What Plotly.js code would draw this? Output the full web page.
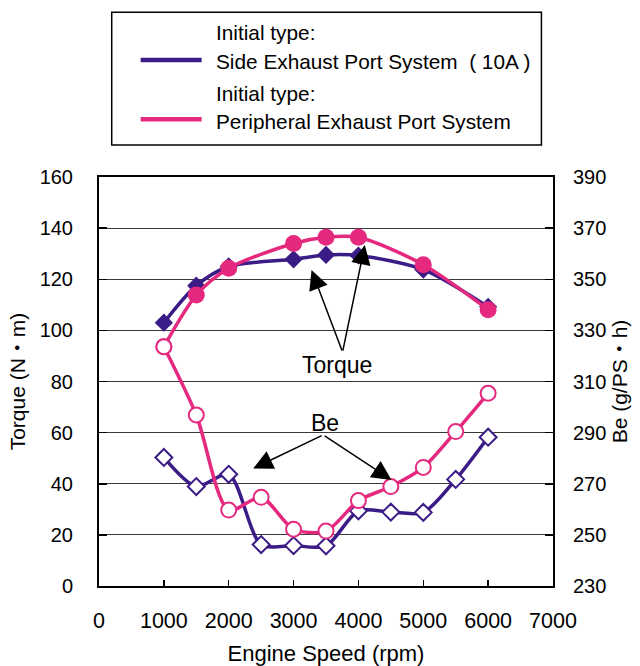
<!DOCTYPE html>
<html>
<head>
<meta charset="utf-8">
<script src="https://cdn.plot.ly/plotly-3.0.1.min.js"></script>
<style>html,body{margin:0;padding:0;background:#fff;}#chart{width:640px;height:666px;}</style>
</head>
<body>
<div id="chart"></div>
<script>
// ---- data ----
const speedTorque = [1000, 1500, 2000, 3000, 3500, 4000, 5000, 6000];
const torqueSide = [103, 117.5, 125, 127.8, 129.5, 129.3, 123.8, 109.2];
const torquePeripheral = [93.6, 113.8, 124.3, 134, 136.4, 136.4, 125.7, 108.1];

const speedBe = [1000, 1500, 2000, 2500, 3000, 3500, 4000, 4500, 5000, 5500, 6000];
const beSide = [280.3, 268.9, 273.7, 246.2, 245.8, 245.7, 259.4, 258.9, 258.8, 271.7, 288.2];
const bePeripheral = [323.6, 296.9, 259.7, 264.7, 252.2, 251.5, 263.4, 268.9, 276.4, 290.4, 305.4];

const legendHead = 'Initial type:';
const nameSide = 'Side Exhaust Port System\u00a0\u00a0( 10A )';
const namePeripheral = 'Peripheral Exhaust Port System';

const purple = '#3B1B86';
const pink = '#E4297F';
const FONT = 'Arial, "Liberation Sans", "Noto Sans CJK JP", sans-serif';

const traces = [
  {x: speedTorque, y: torqueSide, name: nameSide, type: 'scatter', mode: 'lines+markers', yaxis: 'y',
   line: {color: purple, width: 3.5, shape: 'spline', smoothing: 0.8},
   marker: {symbol: 'diamond', size: 14, color: purple}},
  {x: speedTorque, y: torquePeripheral, name: namePeripheral, type: 'scatter', mode: 'lines+markers', yaxis: 'y',
   line: {color: pink, width: 3.5, shape: 'spline', smoothing: 0.8},
   marker: {symbol: 'circle', size: 17, color: pink}},
  {x: speedBe, y: beSide, name: nameSide, type: 'scatter', mode: 'lines+markers', yaxis: 'y2',
   line: {color: purple, width: 3.5, shape: 'spline', smoothing: 0.8},
   marker: {symbol: 'diamond', size: 13, color: '#fff', line: {color: purple, width: 2}}},
  {x: speedBe, y: bePeripheral, name: namePeripheral, type: 'scatter', mode: 'lines+markers', yaxis: 'y2',
   line: {color: pink, width: 3.5, shape: 'spline', smoothing: 0.8},
   marker: {symbol: 'circle', size: 15, color: '#fff', line: {color: pink, width: 2}}}
];

const arrowStyle = {showarrow: true, arrowhead: 2, arrowsize: 2.6, arrowwidth: 1.5, arrowcolor: '#000',
                    text: '', xref: 'x', yref: 'y', axref: 'x', ayref: 'y'};

const annotations = [
  // Torque label and arrows
  {text: 'Torque', x: 3663, y: 86.5, xref: 'x', yref: 'y', showarrow: false, font: {size: 23, color: '#000', family: FONT}},
  Object.assign({}, arrowStyle, {x: 3277, y: 123.6, ax: 3755, ay: 91.5}),
  Object.assign({}, arrowStyle, {x: 4099, y: 133.4, ax: 3755, ay: 91.5}),
  // Be label and arrows
  {text: 'Be', x: 3482, y: 63.6, xref: 'x', yref: 'y', showarrow: false, font: {size: 23, color: '#000', family: FONT}},
  Object.assign({}, arrowStyle, {x: 2378, y: 46.0, ax: 3456, ay: 59.1}),
  Object.assign({}, arrowStyle, {x: 4510, y: 41.5, ax: 3456, ay: 59.1}),
  // legend text
  {text: legendHead, x: 0.253, y: 1.3538, xref: 'paper', yref: 'paper', xanchor: 'left', yanchor: 'middle', showarrow: false, font: {size: 20.8, color: '#000', family: FONT}},
  {text: nameSide, x: 0.253, y: 1.2836, xref: 'paper', yref: 'paper', xanchor: 'left', yanchor: 'middle', showarrow: false, font: {size: 20.8, color: '#000', family: FONT}},
  {text: legendHead, x: 0.253, y: 1.2046, xref: 'paper', yref: 'paper', xanchor: 'left', yanchor: 'middle', showarrow: false, font: {size: 20.8, color: '#000', family: FONT}},
  {text: namePeripheral, x: 0.253, y: 1.1352, xref: 'paper', yref: 'paper', xanchor: 'left', yanchor: 'middle', showarrow: false, font: {size: 20.8, color: '#000', family: FONT}}
];

const shapes = [
  {type: 'rect', xref: 'paper', yref: 'paper', x0: 0.028, x1: 0.9745, y0: 1.078, y1: 1.4027, line: {color: '#000', width: 1.5}, fillcolor: 'rgba(0,0,0,0)'},
  {type: 'line', xref: 'paper', yref: 'paper', x0: 0.0918, x1: 0.2261, y0: 1.2861, y1: 1.2861, line: {color: purple, width: 4.5}},
  {type: 'line', xref: 'paper', yref: 'paper', x0: 0.0918, x1: 0.2261, y0: 1.1411, y1: 1.1411, line: {color: pink, width: 4.5}}
];

const layout = {
  width: 640, height: 666,
  margin: {l: 99, r: 87, t: 177, b: 80, pad: 0},
  paper_bgcolor: '#fff', plot_bgcolor: '#fff',
  font: {family: FONT, color: '#000', size: 20},
  showlegend: false,
  xaxis: {range: [0, 7000], dtick: 1000, tick0: 0, ticks: 'inside', ticklen: 6, tickwidth: 1.5, tickcolor: '#000',
          showline: true, linecolor: '#000', linewidth: 2, mirror: true, showgrid: false, zeroline: false,
          tickfont: {size: 21.5}, ticklabelstandoff: 14,
          title: {text: 'Engine Speed (rpm)', font: {size: 22}}},
  yaxis: {range: [0, 160], dtick: 20, tick0: 0, ticks: 'inside', ticklen: 8, tickwidth: 1.5, tickcolor: '#000',
          showline: true, linecolor: '#000', linewidth: 2, showgrid: true, gridcolor: '#3a3a3a', gridwidth: 1,
          zeroline: false, tickfont: {size: 20}, ticklabelstandoff: 20,
          title: {text: 'Torque (N・m)', font: {size: 21}, standoff: 8}},
  yaxis2: {range: [230, 390], dtick: 20, tick0: 230, overlaying: 'y', side: 'right', ticks: 'inside', ticklen: 8,
           tickwidth: 1.5, tickcolor: '#000', showline: true, linecolor: '#000', linewidth: 2, showgrid: false,
           zeroline: false, tickfont: {size: 20}, ticklabelstandoff: 14,
           title: {text: 'Be (g/PS・h)', font: {size: 21}}},
  annotations: annotations,
  shapes: shapes
};

Plotly.newPlot('chart', traces, layout, {displayModeBar: false, staticPlot: true});
</script>
</body>
</html>
